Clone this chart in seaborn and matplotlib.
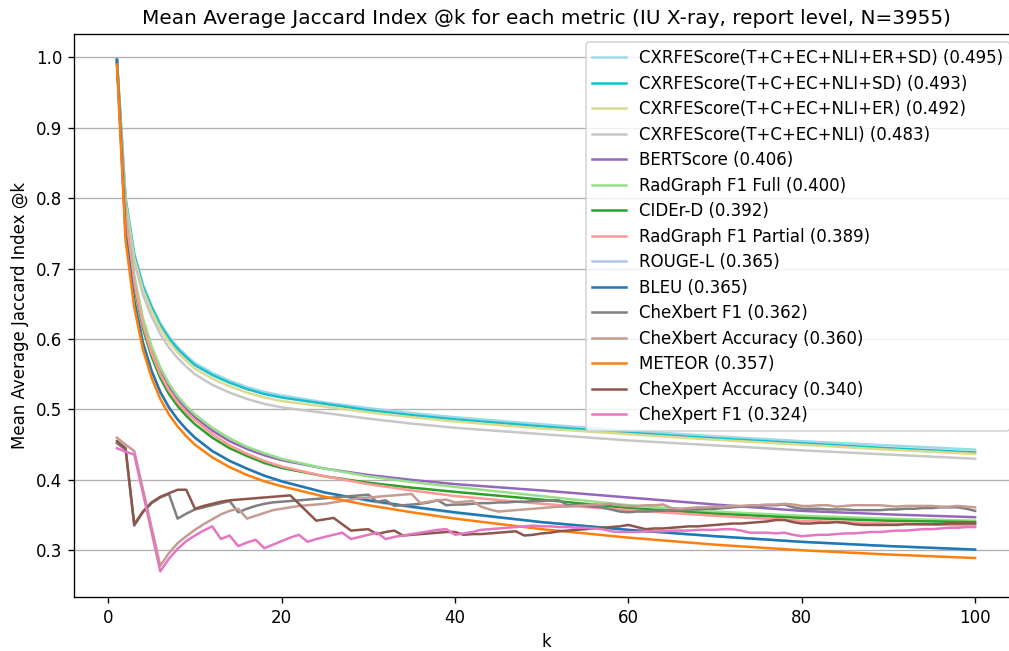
import numpy as np
import pandas as pd
import matplotlib
matplotlib.use("Agg")
import matplotlib.pyplot as plt
import seaborn as sns

k_curve = [1, 2, 3, 4, 5, 6, 7, 8, 9, 10, 12, 14, 16, 18, 20, 25, 30, 35, 40, 50, 60, 70, 80, 90, 100]
# the label-based metrics are jumpy, so they are kept at every k
k_all = list(range(1, 101))

cxrfe_er_sd = [0.997, 0.800, 0.722, 0.678, 0.648, 0.623, 0.604, 0.589, 0.577, 0.566, 0.552, 0.541, 0.532,
               0.525, 0.520, 0.510, 0.502, 0.495, 0.489, 0.479, 0.470, 0.462, 0.455, 0.449, 0.443]
cxrfe_sd = [0.997, 0.800, 0.720, 0.675, 0.645, 0.620, 0.601, 0.586, 0.574, 0.563, 0.549, 0.538, 0.529,
            0.522, 0.517, 0.508, 0.499, 0.492, 0.486, 0.476, 0.467, 0.459, 0.452, 0.445, 0.439]
cxrfe_er = [0.997, 0.795, 0.715, 0.670, 0.640, 0.615, 0.596, 0.581, 0.569, 0.558, 0.544, 0.533, 0.524,
            0.517, 0.512, 0.504, 0.496, 0.489, 0.483, 0.473, 0.465, 0.457, 0.450, 0.443, 0.437]
cxrfe_nli = [0.997, 0.790, 0.710, 0.663, 0.632, 0.607, 0.588, 0.573, 0.561, 0.550, 0.535, 0.524, 0.515,
             0.508, 0.503, 0.495, 0.487, 0.480, 0.474, 0.465, 0.456, 0.449, 0.442, 0.436, 0.430]
bertscore = [0.995, 0.780, 0.685, 0.625, 0.585, 0.555, 0.533, 0.515, 0.501, 0.489, 0.470, 0.455, 0.444,
             0.435, 0.428, 0.416, 0.407, 0.400, 0.394, 0.385, 0.375, 0.365, 0.356, 0.351, 0.347]
radgraph_full = [0.995, 0.785, 0.690, 0.630, 0.590, 0.560, 0.537, 0.519, 0.505, 0.493, 0.474, 0.459, 0.447,
                 0.438, 0.430, 0.416, 0.405, 0.397, 0.390, 0.377, 0.364, 0.355, 0.349, 0.345, 0.342]
cider = [0.995, 0.770, 0.675, 0.615, 0.575, 0.545, 0.522, 0.505, 0.491, 0.479, 0.460, 0.445, 0.434,
         0.424, 0.417, 0.405, 0.396, 0.389, 0.383, 0.372, 0.360, 0.352, 0.346, 0.342, 0.340]
radgraph_partial = [0.995, 0.775, 0.680, 0.620, 0.580, 0.550, 0.527, 0.510, 0.496, 0.485, 0.465, 0.449, 0.437,
                    0.427, 0.419, 0.405, 0.394, 0.385, 0.377, 0.366, 0.357, 0.349, 0.342, 0.338, 0.335]
rouge = [0.997, 0.750, 0.655, 0.595, 0.555, 0.525, 0.503, 0.486, 0.472, 0.460, 0.441, 0.427, 0.416,
         0.406, 0.398, 0.382, 0.370, 0.361, 0.353, 0.340, 0.329, 0.320, 0.312, 0.306, 0.301]
bleu = [0.997, 0.750, 0.655, 0.595, 0.555, 0.525, 0.503, 0.486, 0.472, 0.460, 0.441, 0.427, 0.416,
        0.406, 0.398, 0.382, 0.371, 0.362, 0.354, 0.340, 0.329, 0.320, 0.312, 0.306, 0.301]
meteor = [0.990, 0.740, 0.645, 0.585, 0.545, 0.515, 0.493, 0.476, 0.462, 0.450, 0.432, 0.418, 0.407,
          0.398, 0.391, 0.376, 0.364, 0.354, 0.345, 0.330, 0.318, 0.308, 0.300, 0.294, 0.289]

chexbert_f1 = [0.452, 0.443, 0.335, 0.354, 0.367, 0.375, 0.380, 0.345, 0.352, 0.358,
               0.361, 0.364, 0.367, 0.370, 0.354, 0.359, 0.363, 0.366, 0.368, 0.369,
               0.370, 0.371, 0.372, 0.373, 0.374, 0.375, 0.376, 0.377, 0.378, 0.379,
               0.369, 0.371, 0.363, 0.364, 0.365, 0.366, 0.368, 0.371, 0.364, 0.365,
               0.365, 0.366, 0.367, 0.367, 0.368, 0.368, 0.369, 0.369, 0.370, 0.370,
               0.371, 0.371, 0.364, 0.364, 0.363, 0.362, 0.361, 0.358, 0.355, 0.354,
               0.355, 0.355, 0.356, 0.356, 0.357, 0.357, 0.358, 0.358, 0.359, 0.359,
               0.360, 0.361, 0.362, 0.363, 0.363, 0.364, 0.364, 0.365, 0.361, 0.359,
               0.359, 0.359, 0.358, 0.358, 0.358, 0.357, 0.357, 0.357, 0.357, 0.358,
               0.358, 0.359, 0.359, 0.360, 0.360, 0.361, 0.361, 0.361, 0.359, 0.356]
chexbert_acc = [0.460, 0.450, 0.441, 0.387, 0.333, 0.278, 0.296, 0.310, 0.320, 0.329,
                0.337, 0.344, 0.351, 0.356, 0.359, 0.345, 0.349, 0.353, 0.357, 0.359,
                0.361, 0.363, 0.364, 0.365, 0.366, 0.368, 0.370, 0.372, 0.374, 0.375,
                0.376, 0.377, 0.378, 0.379, 0.380, 0.367, 0.369, 0.371, 0.372, 0.368,
                0.369, 0.370, 0.362, 0.358, 0.355, 0.356, 0.357, 0.358, 0.359, 0.360,
                0.361, 0.362, 0.362, 0.363, 0.364, 0.365, 0.365, 0.366, 0.364, 0.363,
                0.363, 0.364, 0.364, 0.365, 0.360, 0.359, 0.360, 0.361, 0.361, 0.362,
                0.362, 0.363, 0.363, 0.364, 0.364, 0.365, 0.365, 0.366, 0.365, 0.363,
                0.363, 0.364, 0.364, 0.362, 0.363, 0.364, 0.364, 0.364, 0.364, 0.363,
                0.362, 0.363, 0.363, 0.363, 0.363, 0.362, 0.362, 0.363, 0.362, 0.361]
chexpert_acc = [0.455, 0.445, 0.337, 0.355, 0.368, 0.376, 0.381, 0.386, 0.386, 0.359,
                0.363, 0.366, 0.369, 0.371, 0.372, 0.373, 0.374, 0.375, 0.376, 0.377,
                0.378, 0.366, 0.354, 0.342, 0.344, 0.346, 0.337, 0.328, 0.329, 0.330,
                0.323, 0.326, 0.328, 0.321, 0.322, 0.323, 0.324, 0.325, 0.326, 0.326,
                0.322, 0.323, 0.323, 0.324, 0.325, 0.326, 0.327, 0.321, 0.322, 0.324,
                0.325, 0.327, 0.328, 0.329, 0.330, 0.331, 0.332, 0.333, 0.334, 0.336,
                0.333, 0.330, 0.331, 0.331, 0.332, 0.333, 0.334, 0.334, 0.335, 0.336,
                0.337, 0.338, 0.338, 0.339, 0.340, 0.341, 0.343, 0.343, 0.340, 0.338,
                0.338, 0.339, 0.339, 0.340, 0.339, 0.337, 0.336, 0.336, 0.336, 0.336,
                0.336, 0.337, 0.337, 0.337, 0.337, 0.337, 0.338, 0.338, 0.338, 0.338]
chexpert_f1 = [0.445, 0.440, 0.436, 0.381, 0.326, 0.270, 0.288, 0.302, 0.313, 0.321,
               0.328, 0.334, 0.316, 0.321, 0.306, 0.311, 0.315, 0.303, 0.308, 0.313,
               0.318, 0.322, 0.312, 0.316, 0.319, 0.322, 0.325, 0.316, 0.319, 0.322,
               0.325, 0.316, 0.319, 0.321, 0.323, 0.325, 0.327, 0.329, 0.330, 0.322,
               0.324, 0.326, 0.329, 0.330, 0.331, 0.332, 0.333, 0.334, 0.335, 0.334,
               0.334, 0.333, 0.333, 0.332, 0.332, 0.331, 0.330, 0.327, 0.326, 0.326,
               0.326, 0.327, 0.327, 0.327, 0.328, 0.328, 0.328, 0.329, 0.329, 0.329,
               0.330, 0.330, 0.328, 0.325, 0.325, 0.325, 0.324, 0.325, 0.322, 0.320,
               0.321, 0.322, 0.322, 0.323, 0.324, 0.324, 0.325, 0.326, 0.326, 0.327,
               0.328, 0.328, 0.329, 0.330, 0.330, 0.331, 0.332, 0.332, 0.333, 0.333]

# legend order = drawing order
labels = [
    "CXRFEScore(T+C+EC+NLI+ER+SD) (0.495)",
    "CXRFEScore(T+C+EC+NLI+SD) (0.493)",
    "CXRFEScore(T+C+EC+NLI+ER) (0.492)",
    "CXRFEScore(T+C+EC+NLI) (0.483)",
    "BERTScore (0.406)",
    "RadGraph F1 Full (0.400)",
    "CIDEr-D (0.392)",
    "RadGraph F1 Partial (0.389)",
    "ROUGE-L (0.365)",
    "BLEU (0.365)",
    "CheXbert F1 (0.362)",
    "CheXbert Accuracy (0.360)",
    "METEOR (0.357)",
    "CheXpert Accuracy (0.340)",
    "CheXpert F1 (0.324)",
]
series = [cxrfe_er_sd, cxrfe_sd, cxrfe_er, cxrfe_nli, bertscore, radgraph_full, cider,
          radgraph_partial, rouge, bleu, chexbert_f1, chexbert_acc, meteor, chexpert_acc, chexpert_f1]
colors = ["#9edae5", "#17becf", "#dbdb8d", "#c7c7c7", "#9467bd", "#98df8a", "#2ca02c",
          "#ff9896", "#aec7e8", "#1f77b4", "#7f7f7f", "#c49c94", "#ff7f0e", "#8c564b", "#e377c2"]

frames = []
for lab, vals in zip(labels, series):
    ks = k_all if len(vals) == len(k_all) else k_curve
    frames.append(pd.DataFrame({"k": ks, "score": vals, "metric": lab}))
df = pd.concat(frames, ignore_index=True)

fig = plt.figure(figsize=(1009 / 120, 651 / 120), dpi=120)
ax = fig.add_axes([74 / 1009, 54 / 651, (1018 - 74) / 1009, (597 - 34) / 651])

sns.lineplot(data=df, x="k", y="score", hue="metric", hue_order=labels,
             palette=dict(zip(labels, colors)), estimator=None, linewidth=1.5, ax=ax)

ax.grid(axis="y")
ax.set_xlabel("k")
ax.set_ylabel("Mean Average Jaccard Index @k")
ax.set_title("Mean Average Jaccard Index @k for each metric (IU X-ray, report level, N=3955)")
sns.move_legend(ax, "upper right", title=None, labelspacing=0.45)

fig.savefig("out.png", dpi=120)
